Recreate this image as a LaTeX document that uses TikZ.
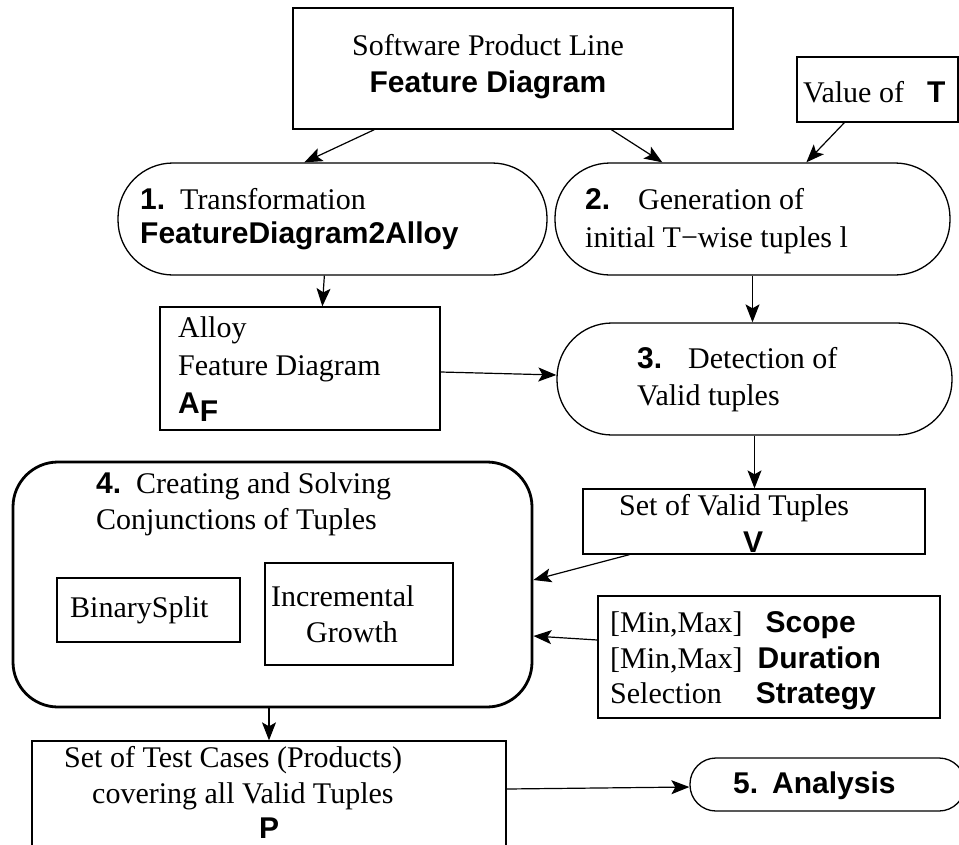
\documentclass[tikz,border=0pt]{standalone}
\usepackage{fontspec}
\setmainfont{Liberation Serif}
\newfontfamily\hvfont{Liberation Sans}
\newcommand{\hb}[1]{{\hvfont\bfseries #1}}
\usetikzlibrary{arrows.meta}

\begin{document}
\begin{tikzpicture}[x=1pt, y=-1pt,
  font=\fontsize{30}{36}\selectfont,
  box/.style={draw, line width=1.3pt, inner sep=0pt},
  stadium/.style={box, rounded corners=55pt},
  lbl/.style={anchor=base west, align=left, inner sep=0pt},
  arr/.style={-{Stealth[length=18pt, width=14pt, inset=4pt]}, line width=1.2pt}]
  \useasboundingbox (0,0) rectangle (959,844);

  \node[box, minimum width=440pt, minimum height=121pt] (fd) at (513,68.5) {};
  \node[box, minimum width=161pt, minimum height=65pt] (valT) at (877.5,89.5) {};
  \node[stadium, minimum width=429pt, minimum height=112pt] (step1) at (332.5,219) {};
  \node[stadium, minimum width=395pt, minimum height=112pt] (step2) at (752.5,219) {};
  \node[box, minimum width=280pt, minimum height=123pt] (alloy) at (300,368.5) {};
  \node[stadium, minimum width=395pt, minimum height=112pt] (step3) at (754.5,379) {};
  \node[box, minimum width=342pt, minimum height=65pt] (V) at (754,521.5) {};
  \node[box, line width=2.8pt, rounded corners=45pt, minimum width=519pt, minimum height=245pt] (step4) at (272.5,584.5) {};
  \node[box, minimum width=183pt, minimum height=64pt] (bin) at (148.5,610) {};
  \node[box, line width=2.5pt, minimum width=188pt, minimum height=102pt] (inc) at (359,614) {};
  \node[box, minimum width=342pt, minimum height=122pt] (par) at (769,657) {};
  \node[box, minimum width=474pt, minimum height=111pt] (tc) at (269,796.5) {};
  \node[box, rounded corners=26pt, minimum width=275pt, minimum height=53pt] (ana) at (827.5,784.5) {};

  \node[anchor=base, align=center, inner sep=0pt] (fdtxt) at (488,92) {Software Product Line\\[1pt]\hb{Feature Diagram}};
  \node[lbl] (valTtxt) at (803,102) {Value of\hspace{23pt}\hb{T}};
  \node[lbl] (step1txt) at (140,243) {\hb{1.}\hspace{15pt}Transformation\\[-2pt]\hb{FeatureDiagram2Alloy}};
  \node[lbl] (step2txt) at (585,247) {\hb{2.}\hspace{28pt}Generation of\\[2pt]initial T−wise tuples l};
  \node[lbl] (alloytxt) at (178,413) {Alloy\\[2pt]Feature Diagram\\[2pt]\hb{A}\raisebox{-8pt}{\hb{F}}};
  \node[lbl] (step3txt) at (637,405) {\hb{3.}\hspace{26pt}Detection of\\[1pt]Valid tuples};
  \node[lbl] (Vtxt) at (619,552) {Set of Valid Tuples\\[1pt]\hspace{124pt}\hb{V}};
  \node[lbl] (step4txt) at (96,529) {\hb{4.}\hspace{15pt}Creating and Solving\\Conjunctions of Tuples};
  \node[lbl] (bintxt) at (70,617) {BinarySplit};
  \node[lbl] (inctxt) at (271,642) {Incremental\\\hspace{35pt}Growth};
  \node[lbl] (partxt) at (610,703) {{[Min,Max]}\hspace{23pt}\hb{Scope}\\{[Min,Max]}\hspace{15pt}\hb{Duration}\\[-1pt]Selection\hspace{34pt}\hb{Strategy}};
  \node[lbl] (tctxt) at (64,838) {Set of Test Cases (Products)\\\hspace{28pt}covering all Valid Tuples\\[-1pt]\hspace{195pt}\hb{P}};
  \node[lbl] (anatxt) at (733,793) {\hb{5.\hspace{14pt}Analysis}};

  \draw[arr] ([xshift=82pt]fd.south west) -- ([xshift=187pt]step1.north west);
  \draw[arr] ([xshift=319pt]fd.south west) -- ([xshift=108pt]step2.north west);
  \draw[arr] ([xshift=48pt]valT.south west) -- ([xshift=252pt]step2.north west);
  \draw[arr] ([xshift=207pt]step1.south west) -- ([xshift=163pt]alloy.north west);
  \draw[arr] ([yshift=-3.5pt]alloy.east) -- ([yshift=4pt]step3.west);
  \draw[arr] (step2.south) -- (step2.south |- step3.north);
  \draw[arr] (step3.south) -- (step3.south |- V.north);
  \draw[arr] ([xshift=47pt]V.south west) -- ([yshift=4.5pt]step4.east);
  \draw[arr] ([yshift=17pt]par.west) -- ([yshift=-51.5pt]step4.east);
  \draw[arr] (tc.north |- step4.south) -- (tc.north);
  \draw[arr] ([yshift=7.5pt]tc.east) -- ([yshift=-2.5pt]ana.west);
\end{tikzpicture}
\end{document}
